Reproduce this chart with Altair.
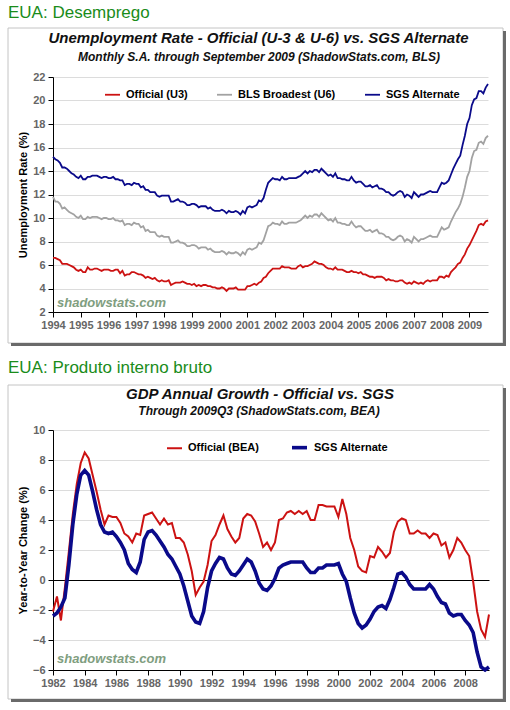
import altair as alt
import pandas as pd

FONT = "Liberation Sans"

# Monthly unemployment rates (%), January 1994 through September 2009
u3_official = [
    6.6, 6.6, 6.5, 6.4, 6.1, 6.1, 6.1, 6.0, 5.9, 5.8, 5.6, 5.5,
    5.6, 5.4, 5.4, 5.8, 5.6, 5.6, 5.7, 5.7, 5.6, 5.5, 5.6, 5.6,
    5.6, 5.5, 5.5, 5.6, 5.6, 5.3, 5.5, 5.1, 5.2, 5.2, 5.4, 5.4,
    5.3, 5.2, 5.2, 5.1, 4.9, 5.0, 4.9, 4.8, 4.9, 4.7, 4.6, 4.7,
    4.6, 4.6, 4.7, 4.3, 4.4, 4.5, 4.5, 4.5, 4.6, 4.5, 4.4, 4.4,
    4.3, 4.4, 4.2, 4.3, 4.2, 4.3, 4.3, 4.2, 4.2, 4.1, 4.1, 4.0,
    4.0, 4.1, 4.0, 3.8, 4.0, 4.0, 4.0, 4.1, 3.9, 3.9, 3.9, 3.9,
    4.2, 4.2, 4.3, 4.4, 4.3, 4.5, 4.6, 4.9, 5.0, 5.3, 5.5, 5.7,
    5.7, 5.7, 5.7, 5.9, 5.8, 5.8, 5.8, 5.7, 5.7, 5.7, 5.9, 6.0,
    5.8, 5.9, 5.9, 6.0, 6.1, 6.3, 6.2, 6.1, 6.1, 6.0, 5.8, 5.7,
    5.7, 5.6, 5.8, 5.6, 5.6, 5.6, 5.5, 5.4, 5.4, 5.5, 5.4, 5.4,
    5.3, 5.4, 5.2, 5.2, 5.1, 5.0, 5.0, 4.9, 5.0, 5.0, 5.0, 4.9,
    4.7, 4.8, 4.7, 4.7, 4.6, 4.6, 4.7, 4.7, 4.5, 4.4, 4.5, 4.4,
    4.6, 4.5, 4.4, 4.5, 4.4, 4.6, 4.7, 4.6, 4.7, 4.7, 4.7, 5.0,
    5.0, 4.9, 5.1, 5.0, 5.4, 5.6, 5.8, 6.1, 6.2, 6.6, 6.9, 7.4,
    7.7, 8.1, 8.5, 8.9, 9.4, 9.5, 9.4, 9.7, 9.8,
]
u6_broadest = [
    11.8, 11.4, 11.4, 11.2, 10.8, 10.9, 10.7, 10.5, 10.4, 10.3, 10.1, 10.0,
    10.2, 9.9, 9.9, 10.1, 10.0, 10.1, 10.1, 10.1, 10.0, 9.9, 10.0, 10.0,
    9.9, 9.9, 10.0, 9.8, 9.8, 9.7, 9.8, 9.4, 9.5, 9.5, 9.4, 9.6,
    9.5, 9.5, 9.2, 9.3, 8.9, 9.0, 8.8, 8.8, 8.8, 8.5, 8.4, 8.5,
    8.4, 8.4, 8.4, 7.9, 7.9, 8.0, 8.1, 7.9, 7.9, 7.8, 7.6, 7.6,
    7.7, 7.7, 7.6, 7.4, 7.5, 7.5, 7.5, 7.3, 7.4, 7.2, 7.1, 7.1,
    7.1, 7.2, 7.1, 6.9, 7.1, 7.0, 7.0, 7.1, 7.0, 6.8, 7.1, 6.9,
    7.3, 7.4, 7.3, 7.4, 7.5, 7.9, 7.8, 8.1, 8.7, 9.3, 9.4, 9.6,
    9.5, 9.5, 9.4, 9.7, 9.5, 9.5, 9.6, 9.6, 9.6, 9.6, 9.7, 9.8,
    10.0, 10.2, 10.0, 10.2, 10.1, 10.3, 10.3, 10.1, 10.4, 10.2, 10.0, 9.8,
    9.9, 9.7, 10.0, 9.6, 9.6, 9.5, 9.5, 9.4, 9.4, 9.7, 9.4, 9.2,
    9.3, 9.3, 9.1, 8.9, 8.9, 9.0, 8.8, 8.9, 9.0, 8.7, 8.7, 8.6,
    8.4, 8.4, 8.2, 8.1, 8.2, 8.4, 8.5, 8.4, 8.0, 8.2, 8.1, 7.9,
    8.4, 8.2, 8.0, 8.2, 8.2, 8.3, 8.4, 8.5, 8.4, 8.4, 8.4, 8.8,
    9.2, 9.0, 9.1, 9.2, 9.7, 10.1, 10.5, 10.8, 11.2, 11.8, 12.6, 13.5,
    14.0, 15.1, 15.7, 15.8, 16.4, 16.5, 16.3, 16.8, 17.0,
]
sgs_unemployment = [
    15.2, 15.0, 14.9, 14.7, 14.3, 14.3, 14.2, 14.0, 13.8, 13.7, 13.5, 13.4,
    13.6, 13.3, 13.3, 13.5, 13.5, 13.6, 13.6, 13.6, 13.5, 13.4, 13.5, 13.5,
    13.4, 13.4, 13.5, 13.3, 13.3, 13.2, 13.2, 12.8, 12.9, 12.9, 12.8, 13.0,
    12.9, 12.9, 12.6, 12.7, 12.4, 12.4, 12.2, 12.2, 12.2, 11.9, 11.8, 11.9,
    11.9, 11.9, 11.9, 11.4, 11.4, 11.5, 11.6, 11.4, 11.4, 11.3, 11.1, 11.1,
    11.2, 11.2, 11.1, 10.9, 11.0, 11.0, 11.0, 10.8, 10.9, 10.7, 10.6, 10.6,
    10.6, 10.7, 10.6, 10.4, 10.6, 10.5, 10.5, 10.6, 10.5, 10.3, 10.6, 10.4,
    10.9, 11.0, 10.9, 11.0, 11.1, 11.5, 11.4, 11.7, 12.4, 13.0, 13.2, 13.4,
    13.3, 13.3, 13.2, 13.5, 13.3, 13.3, 13.4, 13.4, 13.4, 13.4, 13.5, 13.6,
    13.8, 14.0, 13.8, 14.0, 13.9, 14.1, 14.1, 13.9, 14.2, 14.0, 13.8, 13.6,
    13.7, 13.5, 13.8, 13.4, 13.4, 13.3, 13.3, 13.2, 13.2, 13.5, 13.2, 13.0,
    13.1, 13.1, 12.9, 12.7, 12.7, 12.8, 12.6, 12.7, 12.8, 12.5, 12.5, 12.4,
    12.2, 12.2, 12.0, 11.9, 12.0, 12.2, 12.3, 12.2, 11.8, 12.0, 11.9, 11.7,
    12.2, 12.0, 11.8, 12.0, 12.0, 12.1, 12.2, 12.3, 12.2, 12.2, 12.2, 12.6,
    13.0, 12.9, 13.0, 13.2, 13.7, 14.2, 14.6, 15.0, 15.3, 16.2, 17.0, 18.0,
    18.5, 19.6, 20.1, 20.2, 20.8, 20.8, 20.6, 21.1, 21.4,
]
unemp_start_year = 1994

# Quarterly real GDP, year-to-year change (%), 1982Q1 through 2009Q3
gdp_official = [
    -2.1, -1.1, -2.7, -0.5,
    1.9, 4.4, 6.4, 7.8,
    8.5, 8.1, 7.0, 5.9,
    4.7, 3.7, 4.3, 4.2,
    4.2, 3.8, 3.1, 2.9,
    2.5, 3.1, 3.0, 4.3,
    4.4, 4.5, 4.1, 3.7,
    4.1, 3.7, 3.8, 2.8,
    2.8, 2.5, 1.7, 0.6,
    -1.0, -0.5, -0.1, 1.0,
    2.6, 3.0, 3.7, 4.3,
    3.4, 2.9, 2.5, 2.8,
    4.1, 4.4, 4.3, 3.9,
    3.1, 2.2, 2.5, 2.0,
    2.5, 4.0, 4.1, 4.5,
    4.6, 4.4, 4.6, 4.4,
    4.6, 4.0, 4.0, 5.0,
    5.0, 4.9, 4.9, 4.9,
    4.2, 5.4, 4.4, 2.8,
    2.0, 0.9, 0.6, 0.5,
    1.6, 1.5, 2.2, 1.9,
    1.5, 1.8, 3.2, 3.9,
    4.1, 4.0, 3.1, 3.1,
    3.3, 3.1, 3.1, 2.8,
    3.1, 3.0, 2.3, 2.5,
    1.5, 2.0, 2.8, 2.5,
    2.0, 1.6, -0.1, -2.1,
    -3.3, -3.8, -2.3,
]
gdp_sgs = [
    -2.4, -2.2, -1.8, -1.2,
    1.0, 3.7, 5.7, 7.0,
    7.3, 7.0, 5.9, 4.7,
    3.7, 3.2, 3.1, 3.2,
    2.9, 2.5, 2.0, 1.1,
    0.7, 0.5, 1.2, 2.7,
    3.2, 3.3, 3.0, 2.6,
    2.2, 1.7, 1.4, 0.9,
    0.4, -0.4, -1.4, -2.4,
    -2.8, -2.9, -2.1, -0.5,
    0.6, 1.1, 1.5, 1.4,
    0.8, 0.4, 0.3, 0.6,
    1.0, 1.4, 1.2, 0.6,
    -0.2, -0.6, -0.7, -0.4,
    0.1, 0.8, 1.0, 1.1,
    1.2, 1.2, 1.2, 1.2,
    0.8, 0.5, 0.5, 0.8,
    0.8, 1.0, 1.0, 1.0,
    1.1, 0.4, -0.1, -1.2,
    -2.2, -2.9, -3.2, -3.0,
    -2.6, -2.1, -1.8, -1.7,
    -1.9, -1.3, -0.5, 0.4,
    0.5, 0.2, -0.3, -0.6,
    -0.6, -0.6, -0.6, -0.3,
    -0.6, -1.1, -1.5, -1.6,
    -2.2, -2.4, -2.3, -2.3,
    -2.7, -3.0, -3.5, -4.8,
    -5.8, -6.0, -5.8,
]
gdp_start_year = 1982

unemp_names = ["Official (U3)", "BLS Broadest (U6)", "SGS Alternate"]
unemp_colors = ["#cc1212", "#a2a2a2", "#0a0a8a"]
unemp_widths = [1.8, 1.8, 3.2]
gdp_names = ["Official (BEA)", "SGS Alternate"]
gdp_colors = ["#cc1212", "#0a0a8a"]
gdp_widths = [2.0, 3.6]

unemp_year_ticks = list(range(1994, 2010))
unemp_value_ticks = list(range(2, 23, 2))
gdp_year_ticks = list(range(1982, 2009, 2))
gdp_value_ticks = list(range(-6, 11, 2))

GREEN = "#1a8c1a"
LABEL_GRAY = "#666666"
GRID = "#dcdcdc"
FRAME = "#c4c4c4"
SHADOW = "#6a6a6a"
WATERMARK = "#809e80"


def long_table(series, names, start, per_year):
    rows = []
    for name, values in zip(names, series):
        for i, v in enumerate(values):
            rows.append({"t": start + i / per_year, "v": v, "s": name})
    return pd.DataFrame(rows)


unemp_df = long_table([u3_official, u6_broadest, sgs_unemployment], unemp_names, unemp_start_year, 12)
gdp_df = long_table([gdp_official, gdp_sgs], gdp_names, gdp_start_year, 4)

single = alt.Data(values=[{}])


def box(x, x2, y, y2, **style):
    return alt.Chart(single).mark_rect(**style).encode(
        x=alt.value(x), x2=alt.value(x2), y=alt.value(y), y2=alt.value(y2)
    )


def label(text, x, y, size, color="#111111", weight="normal", style="normal", align="left"):
    return alt.Chart(single).mark_text(
        text=text, x=x, y=y, fontSize=size, fontWeight=weight, fontStyle=style,
        color=color, align=align, baseline="alphabetic", font=FONT,
    )


def frame(top, bottom):
    # panel outline with a dark drop shadow on the right and bottom
    return [
        box(-45, 450, top, bottom, fillOpacity=0, stroke=FRAME, strokeWidth=1),
        box(450, 453, top + 3, bottom + 3, color=SHADOW),
        box(-42, 453, bottom, bottom + 3, color=SHADOW),
    ]


def axis_common():
    return dict(
        labelFont=FONT, labelFontSize=11, labelFontWeight="bold", labelColor=LABEL_GRAY,
        labelOverlap=False, labelFlush=False, labelBound=False,
        domainColor="#000000", tickColor="#000000", tickSize=5,
        titleFont=FONT, titleFontSize=11, titleFontWeight="bold", titleColor="#000000",
    )


def legend(x, y):
    return alt.Legend(
        orient="none", legendX=x, legendY=y, direction="horizontal", title=None,
        symbolType="stroke", symbolSize=225, symbolStrokeWidth=3,
        labelFont=FONT, labelFontSize=11, labelFontWeight="bold", labelColor="#000000",
        labelOffset=5, columnPadding=25, padding=0, labelLimit=0,
    )


# ---- Unemployment panel ----
unemp_lines = alt.Chart(unemp_df).mark_line(interpolate="linear").encode(
    x=alt.X("t:Q", scale=alt.Scale(domain=[1994, 1994 + 188 / 12], nice=False, zero=False),
            axis=alt.Axis(values=unemp_year_ticks, format="d", title=None, grid=False,
                          labelPadding=2, **axis_common())),
    y=alt.Y("v:Q", scale=alt.Scale(domain=[2, 22], nice=False, zero=False),
            axis=alt.Axis(values=unemp_value_ticks, title="Unemployment Rate (%)", grid=True,
                          gridColor=GRID, labelPadding=3, titleX=-30, titleY=117.5,
                          titleAngle=270, titleAlign="center", titleBaseline="middle",
                          **axis_common())),
    color=alt.Color("s:N", scale=alt.Scale(domain=unemp_names, range=unemp_colors),
                    legend=legend(51, 9)),
    strokeWidth=alt.StrokeWidth("s:N", scale=alt.Scale(domain=unemp_names, range=unemp_widths),
                                legend=None),
)

unemp_panel = alt.layer(
    box(-53, 457, -77, 633, opacity=0),
    *frame(-49, 266),
    label("EUA: Desemprego", -45, -58.7, 17, color=GREEN),
    label("Unemployment Rate - Official (U-3 & U-6) vs. SGS Alternate", 205.5, -33.7, 15,
          weight="bold", style="italic", align="center"),
    label("Monthly S.A. through September 2009 (ShadowStats.com, BLS)", 206, -16, 12,
          weight="bold", style="italic", align="center"),
    label("shadowstats.com", 4, 229.7, 13, color=WATERMARK, weight="bold", style="italic"),
    unemp_lines,
).properties(width=435, height=235)

# ---- GDP panel ----
# the zero gridline is drawn in black as the growth/contraction divide
gdp_grid_color = {"condition": {"test": "datum.value === 0", "value": "#000000"}, "value": GRID}

gdp_lines = alt.Chart(gdp_df).mark_line(interpolate="linear").encode(
    x=alt.X("t:Q", scale=alt.Scale(domain=[1982, 2009.5], nice=False, zero=False),
            axis=alt.Axis(values=gdp_year_ticks, format="d", title=None, grid=False,
                          labelPadding=2, **axis_common())),
    y=alt.Y("v:Q", scale=alt.Scale(domain=[-6, 10], nice=False, zero=False),
            axis=alt.Axis(values=gdp_value_ticks, title="Year-to-Year Change (%)", grid=True,
                          gridColor=gdp_grid_color, labelPadding=3, titleX=-29.5, titleY=120,
                          titleAngle=270, titleAlign="center", titleBaseline="middle",
                          **axis_common())),
    color=alt.Color("s:N", scale=alt.Scale(domain=gdp_names, range=gdp_colors),
                    legend=legend(113, 8)),
    strokeWidth=alt.StrokeWidth("s:N", scale=alt.Scale(domain=gdp_names, range=gdp_widths),
                                legend=None),
)

gdp_panel = alt.layer(
    *frame(-45, 269),
    label("EUA: Produto interno bruto", -45, -56.7, 17, color=GREEN),
    label("GDP Annual Growth - Official vs. SGS", 207, -31, 15,
          weight="bold", style="italic", align="center"),
    label("Through 2009Q3 (ShadowStats.com, BEA)", 206, -15, 12,
          weight="bold", style="italic", align="center"),
    label("shadowstats.com", 4, 233, 13, color=WATERMARK, weight="bold", style="italic"),
    gdp_lines,
).properties(width=436, height=240)

chart = alt.vconcat(
    unemp_panel, gdp_panel, spacing=118, bounds="flush"
).resolve_scale(
    color="independent", strokeWidth="independent", x="independent", y="independent"
).configure_view(
    stroke=None
).properties(
    padding=0, background="white", autosize=alt.AutoSizeParams(type="pad")
)

chart.save("out.html", embed_options={"renderer": "svg", "actions": False})
